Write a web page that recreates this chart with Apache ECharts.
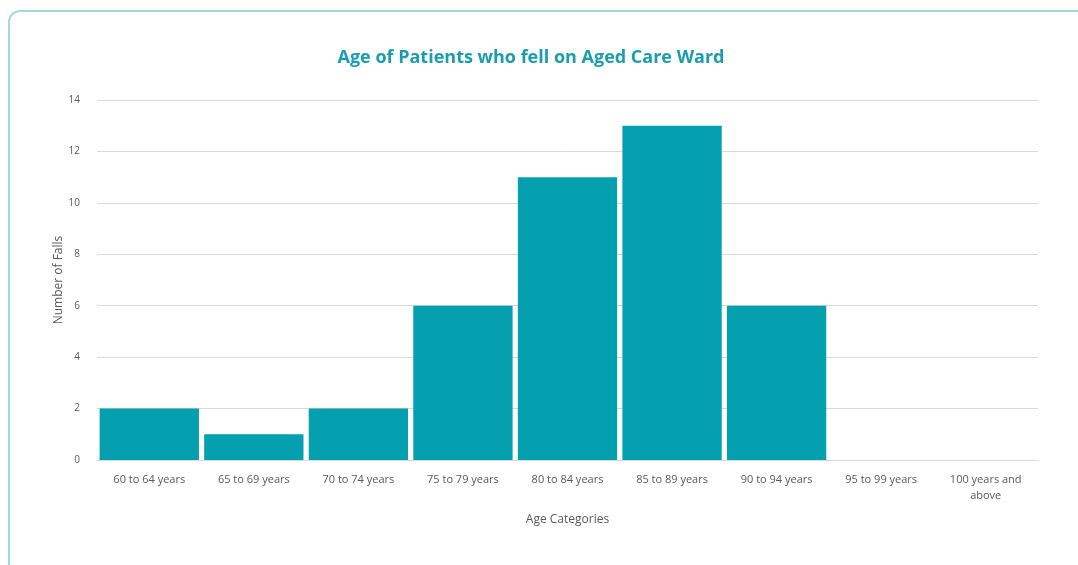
<!DOCTYPE html>
<html>
<head>
<meta charset="utf-8">
<script src="https://cdn.jsdelivr.net/npm/echarts@6/dist/echarts.min.js"></script>
<style>
  html, body { margin: 0; padding: 0; background: #fff; overflow: hidden; }
  #card {
    position: absolute; left: 8px; top: 10px; width: 1100px; height: 600px;
    border: 2px solid #a6d6de; border-radius: 12px; box-sizing: border-box;
  }
  #chart { position: absolute; left: 0; top: 0; width: 1078px; height: 565px; }
</style>
</head>
<body>
<div id="card"></div>
<div id="chart"></div>
<script>
var categories = ["60 to 64 years", "65 to 69 years", "70 to 74 years", "75 to 79 years",
  "80 to 84 years", "85 to 89 years", "90 to 94 years", "95 to 99 years", "100 years and\nabove"];
var falls = [2, 1, 2, 6, 11, 13, 6, 0, 0];

var labelFont = "'Open Sans', 'Noto Sans', sans-serif";

var option = {
  animation: false,
  backgroundColor: "transparent",
  title: {
    text: "Age of Patients who fell on Aged Care Ward",
    left: 526,
    top: 44,
    textAlign: "center",
    textStyle: { color: "#1a9eae", fontSize: 18, fontWeight: "bold", fontFamily: "'Open Sans', Lato, sans-serif" }
  },
  grid: { left: 97, right: 40, top: 100, bottom: 105 },
  xAxis: {
    type: "category",
    data: categories,
    name: "Age Categories",
    nameLocation: "middle",
    nameGap: 54,
    nameTextStyle: { color: "#595959", fontSize: 12, fontFamily: labelFont },
    axisLine: { lineStyle: { color: "#d9d9d9", width: 1 } },
    axisTick: { show: false },
    axisLabel: { color: "#595959", fontSize: 11, fontFamily: labelFont, margin: 12, interval: 0, lineHeight: 16 }
  },
  yAxis: {
    type: "value",
    min: 0,
    max: 14,
    interval: 2,
    name: "Number of Falls",
    nameLocation: "middle",
    nameGap: 32,
    nameMoveOverlap: false,
    nameTextStyle: { color: "#595959", fontSize: 12, fontFamily: labelFont },
    axisLine: { show: false },
    axisTick: { show: false },
    axisLabel: { color: "#595959", fontSize: 10, fontFamily: labelFont, margin: 17 },
    splitLine: { lineStyle: { color: "#d9d9d9", width: 1 } }
  },
  series: [{
    type: "bar",
    data: falls,
    barCategoryGap: "5%",
    itemStyle: { color: "#05a0b0" }
  }]
};

var myChart = echarts.init(document.getElementById("chart"));
myChart.setOption(option);
</script>
</body>
</html>
